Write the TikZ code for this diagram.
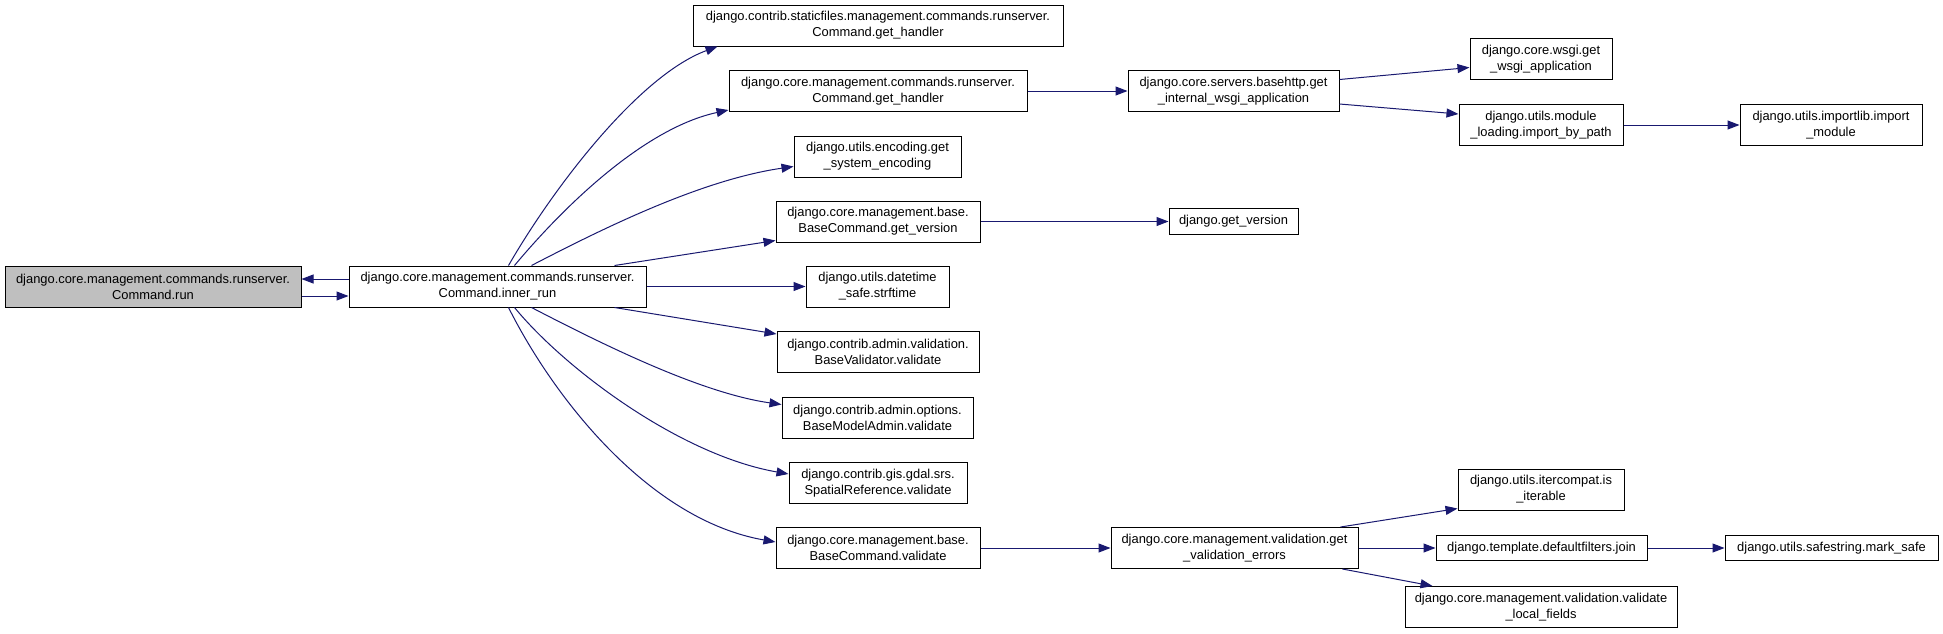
\documentclass[tikz,border=0pt]{standalone}
\usepackage{fontspec}
\setmainfont{Liberation Sans}
\usetikzlibrary{arrows.meta}
\definecolor{edgeblue}{HTML}{191970}
\definecolor{rootgray}{HTML}{BFBFBF}
\begin{document}
\begin{tikzpicture}[x=1pt,y=-1pt,
  box/.style={draw=black, line width=1pt, fill=white, inner sep=0pt, align=center,
    minimum height=41pt, font=\fontsize{12.9}{16}\selectfont},
  onebox/.style={box, minimum height=26pt},
  call/.style={draw=edgeblue, line width=1pt, -{Triangle[length=12pt,width=9pt]}},
]
\fill[white] (0,0) rectangle (1943,633);
\useasboundingbox (0,0) rectangle (1943,633);

% rank 0/1
\node[box, fill=rootgray, minimum width=296pt] (run) at (153,286.5) {django.core.management.commands.runserver.\\Command.run};
\node[box, minimum width=297pt] (inner) at (497.5,286.5) {django.core.management.commands.runserver.\\Command.inner\_run};

% rank 2
\node[box, minimum width=370pt] (static) at (878,25.5) {django.contrib.staticfiles.management.commands.runserver.\\Command.get\_handler};
\node[box, minimum width=298pt] (gethandler) at (878,91) {django.core.management.commands.runserver.\\Command.get\_handler};
\node[box, minimum width=167pt] (encoding) at (877.5,156.5) {django.utils.encoding.get\\\_system\_encoding};
\node[box, minimum width=204pt] (getversion) at (878,221.5) {django.core.management.base.\\BaseCommand.get\_version};
\node[box, minimum width=143pt] (datetime) at (877.5,286.5) {django.utils.datetime\\\_safe.strftime};
\node[box, minimum width=202pt] (basevalidator) at (878,352) {django.contrib.admin.validation.\\BaseValidator.validate};
\node[box, minimum width=191pt] (modeladmin) at (877.5,417.5) {django.contrib.admin.options.\\BaseModelAdmin.validate};
\node[box, minimum width=178pt] (spatial) at (878,483) {django.contrib.gis.gdal.srs.\\SpatialReference.validate};
\node[box, minimum width=204pt] (bcvalidate) at (878,548) {django.core.management.base.\\BaseCommand.validate};

% rank 3
\node[box, minimum width=211pt] (basehttp) at (1233.5,91) {django.core.servers.basehttp.get\\\_internal\_wsgi\_application};
\node[onebox, minimum width=129pt] (djversion) at (1233.5,221.5) {django.get\_version};
\node[box, minimum width=247pt] (valerr) at (1234.5,548) {django.core.management.validation.get\\\_validation\_errors};

% rank 4
\node[box, minimum width=142pt] (wsgi) at (1541,59) {django.core.wsgi.get\\\_wsgi\_application};
\node[box, minimum width=164pt] (modload) at (1541,125) {django.utils.module\\\_loading.import\_by\_path};
\node[box, minimum width=166pt] (itercompat) at (1541,489.5) {django.utils.itercompat.is\\\_iterable};
\node[onebox, minimum height=25pt, minimum width=211pt] (join) at (1541.5,548) {django.template.defaultfilters.join};
\node[box, minimum width=272pt] (localfields) at (1541,607) {django.core.management.validation.validate\\\_local\_fields};

% rank 5
\node[box, minimum width=182pt] (importlib) at (1831,125) {django.utils.importlib.import\\\_module};
\node[onebox, minimum height=25pt, minimum width=213pt] (marksafe) at (1831.5,548) {django.utils.safestring.mark\_safe};

% edges
\draw[call] ([yshift=7.5]inner.west) -- ([yshift=7.5]run.east);
\draw[call] ([yshift=-9.5]run.east) -- ([yshift=-9.5]inner.west);

\draw[call] ([xshift=160]inner.north west) .. controls (555,185) and (640,75) .. ([xshift=25]static.south west);
\draw[call] ([xshift=166]inner.north west) .. controls (565,205) and (645,128) .. ([yshift=2]gethandler.south west);
\draw[call] ([xshift=183]inner.north west) .. controls (600,230) and (700,180) .. ([yshift=11]encoding.south west);
\draw[call] ([xshift=266]inner.north west) -- ([yshift=2]getversion.south west);
\draw[call] (inner.east) -- (datetime.west);
\draw[call] ([xshift=266]inner.south west) -- ([yshift=-3]basevalidator.north west);
\draw[call] ([xshift=183]inner.south west) .. controls (600,343) and (700,393) .. ([yshift=-8]modeladmin.north west);
\draw[call] ([xshift=166]inner.south west) .. controls (565,369) and (680,455) .. ([yshift=-12]spatial.north west);
\draw[call] ([xshift=160]inner.south west) .. controls (555,400) and (650,520) .. ([yshift=-15]bcvalidate.north west);

\draw[call] (gethandler.east) -- (basehttp.west);
\draw[call] ([yshift=-9.5]basehttp.north east) -- ([yshift=12.5]wsgi.south west);
\draw[call] ([yshift=8]basehttp.south east) -- ([yshift=-10]modload.north west);
\draw[call] (modload.east) -- (importlib.west);
\draw[call] (getversion.east) -- (djversion.west);
\draw[call] (bcvalidate.east) -- (valerr.west);
\draw[call] ([xshift=-18]valerr.north east) -- ([yshift=2]itercompat.south west);
\draw[call] (valerr.east) -- (join.west);
\draw[call] ([xshift=-16]valerr.south east) -- ([xshift=28]localfields.north west);
\draw[call] (join.east) -- (marksafe.west);
\end{tikzpicture}
\end{document}
